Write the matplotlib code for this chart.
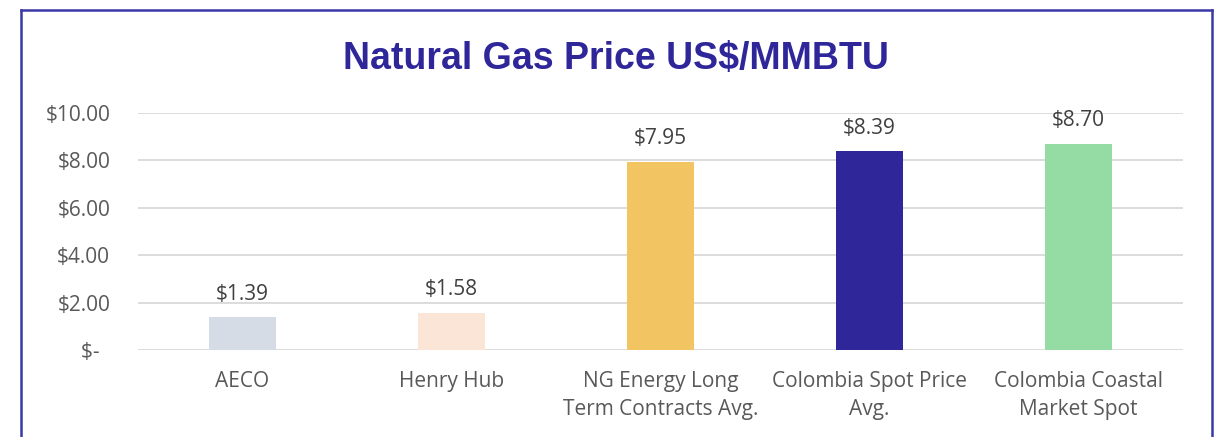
import matplotlib
matplotlib.use("Agg")
import matplotlib.pyplot as plt
from matplotlib.lines import Line2D

categories = ["AECO", "Henry Hub", "NG Energy Long\nTerm Contracts Avg.",
              "Colombia Spot Price\nAvg.", "Colombia Coastal\nMarket Spot"]
values = [1.39, 1.58, 7.95, 8.39, 8.70]
value_labels = ["$1.39", "$1.58", "$7.95", "$8.39", "$8.70"]
colors = ["#d6dce5", "#fbe5d6", "#f3c462", "#2e2699", "#95dba4"]
yticks = [0, 2, 4, 6, 8, 10]
ytick_labels = ["$-  ", "$2.00", "$4.00", "$6.00", "$8.00", "$10.00"]

W, H = 1216, 437
fig = plt.figure(figsize=(W / 100, H / 100), dpi=100)
fig.patch.set_facecolor("white")

left, right = 138 / W, 1183 / W
bottom, top = 1 - 350 / H, 1 - 113 / H
ax = fig.add_axes([left, bottom, right - left, top - bottom])

font = "Open Sans"
fs = 15
x = list(range(len(categories)))
ax.bar(x, values, width=0.316, color=colors, zorder=3)
for xi, v, lab in zip(x, values, value_labels):
    ax.annotate(lab, (xi, v), xytext=(0, 9), textcoords="offset points",
                ha="center", va="bottom", fontsize=fs, color="#404040",
                family=font)

ax.set_xlim(-0.5, len(categories) - 0.5)
ax.set_ylim(0, 10)
ax.set_yticks(yticks)
ax.set_yticklabels(ytick_labels, fontsize=fs, color="#595959", family=font)
ax.set_xticks(x)
ax.set_xticklabels(categories, fontsize=fs, color="#595959", family=font,
                   linespacing=1.45)
ax.tick_params(axis="both", length=0)
ax.tick_params(axis="y", pad=20)
ax.tick_params(axis="x", pad=15)
ax.grid(axis="y", color="#d9d9d9", linewidth=1.3, zorder=0)
for s in ax.spines.values():
    s.set_visible(False)

fig.text(616 / W, 1 - 59 / H, "Natural Gas Price US$/MMBTU", ha="center",
         va="center", fontsize=27, fontweight="bold", color="#2e2699",
         family="Liberation Sans")

bc = "#3b38a6"
lw = 1.8
xl, xr, yt = 20.5 / W, 1212 / W, 1 - 9.5 / H
fig.add_artist(Line2D([xl, xl], [-0.1, yt], transform=fig.transFigure, color=bc, lw=lw))
fig.add_artist(Line2D([xr, xr], [-0.1, yt], transform=fig.transFigure, color=bc, lw=lw))
fig.add_artist(Line2D([xl, xr], [yt, yt], transform=fig.transFigure, color=bc, lw=lw))

fig.savefig("out.png", dpi=100, facecolor="white")
